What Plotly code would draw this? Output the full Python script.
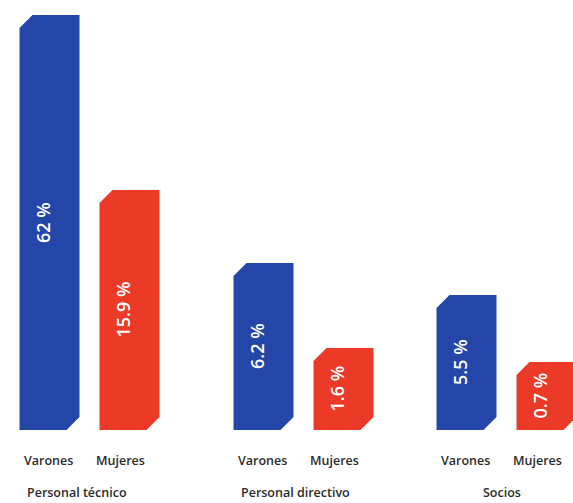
import plotly.graph_objects as go

# ---- data ----
groups = ["Personal técnico", "Personal directivo", "Socios"]
series = ["Varones", "Mujeres"]
values = [[62, 15.9], [6.2, 1.6], [5.5, 0.7]]            # percentages (labels)
value_labels = [["62 %", "15.9 %"], ["6.2 %", "1.6 %"], ["5.5 %", "0.7 %"]]
bar_heights = [[415, 240], [167, 82], [135, 68]]          # drawn heights
colors = {"Varones": "#2446a8", "Mujeres": "#ec3a28"}

# ---- layout constants ----
W, H = 573, 503
baseline_px = 430
group_centers = [89.5, 303.5, 506.5]
group_label_shift = [-13, -8, -5]
series_label_shift = [-1, -9]
bar_offset = 40
bar_width = 60
bevel = 13
value_shift = -7
label_font = "Open Sans"

fig = go.Figure()

for gi, g in enumerate(groups):
    for si, s in enumerate(series):
        cx = group_centers[gi] + (-bar_offset if si == 0 else bar_offset)
        x0, x1 = cx - bar_width / 2, cx + bar_width / 2
        h = bar_heights[gi][si]
        b = min(bevel, h / 4)
        xs = [x0, x1 - b, x1, x1, x0 + b, x0, x0]
        ys = [0, 0, b, h, h, h - b, 0]
        fig.add_trace(go.Scatter(
            x=xs, y=ys, mode="lines", fill="toself",
            fillcolor=colors[s], line=dict(width=0, color=colors[s]),
            hoverinfo="skip", showlegend=False))
        # value label (rotated, inside bar)
        fig.add_annotation(
            x=cx + value_shift, y=h / 2, text=value_labels[gi][si], showarrow=False,
            textangle=-90, font=dict(family=label_font, size=18, color="white", weight=600),
            xanchor="center", yanchor="middle")
        # series label under bar
        fig.add_annotation(
            x=cx + series_label_shift[si], y=-30, text=s, showarrow=False,
            font=dict(family=label_font, size=12.5, color="#2b2b2b", weight=600),
            xanchor="center", yanchor="middle")
    # group label
    fig.add_annotation(
        x=group_centers[gi] + group_label_shift[gi], y=-62, text=groups[gi], showarrow=False,
        font=dict(family=label_font, size=12.5, color="#2b2b2b", weight=600),
        xanchor="center", yanchor="middle")

fig.update_layout(
    width=W, height=H, margin=dict(l=0, r=0, t=0, b=0),
    paper_bgcolor="white", plot_bgcolor="white",
    xaxis=dict(range=[0, W], visible=False, fixedrange=True),
    yaxis=dict(range=[-(H - baseline_px), baseline_px], visible=False, fixedrange=True),
    showlegend=False,
)

fig.write_html("out.html", config={"displayModeBar": False})
